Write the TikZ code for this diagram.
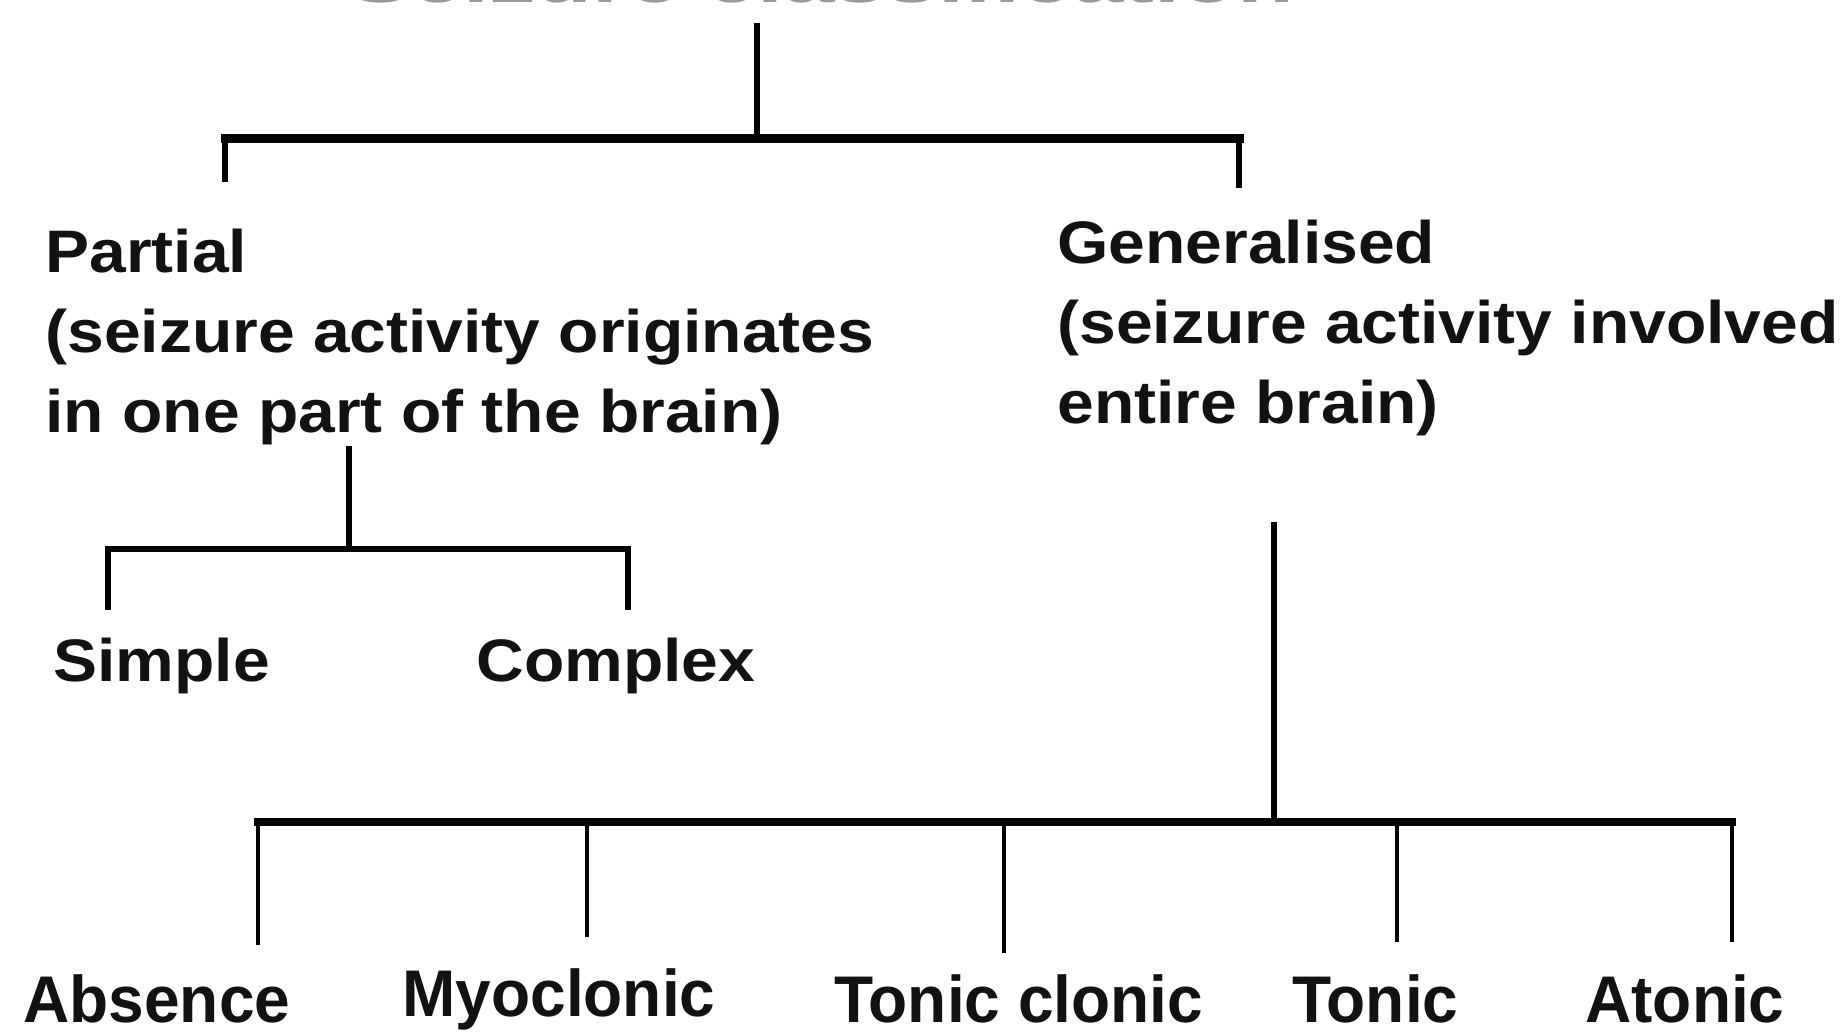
\documentclass[tikz,border=0pt]{standalone}
\usepackage{fontspec}
\setmainfont{Liberation Sans}
\begin{document}
\begin{tikzpicture}[x=0.5pt,y=-0.5pt,
  lbl/.style={inner sep=0pt, anchor=base west, align=left, text=black!93,
    font={\bfseries\fontsize{30}{40}\selectfont}, xscale=1.1},
  leaf/.style={inner sep=0pt, anchor=base west, text=black!93,
    font={\bfseries\fontsize{33}{40}\selectfont}, xscale=0.97},
  barline/.style={line width=4.5pt, line cap=rect},
  vline/.style={line width=2.6pt},
  thinv/.style={line width=1.8pt}]
\useasboundingbox (0,0) rectangle (1841,1034);
% title (cut off by the top edge in the reference)
\node[leaf, anchor=base, xscale=1.45, text=black!40] (title) at (822,2) {Seizure classification};
% level 1
\coordinate (t0) at (757,23);
\coordinate (t1) at (757,138);
\coordinate (tl) at (225,138);
\coordinate (tr) at (1239,138);
\coordinate (tlb) at (225,182);
\coordinate (trb) at (1239,188);
\draw[vline] (t0) -- (t1);
\draw[barline] (tl) -- (tr);
\draw[vline] (tl) -- (tlb);
\draw[vline] (tr) -- (trb);
\node[lbl] (partial) at (45,432) {Partial\\(seizure activity originates\\in one part of the brain)};
\node[lbl] (gen) at (1057,423) {Generalised\\(seizure activity involved\\entire brain)};
% partial branch
\coordinate (p0) at (349,446);
\coordinate (p1) at (349,549);
\coordinate (pl) at (108,549);
\coordinate (pr) at (628,549);
\coordinate (plb) at (108,610);
\coordinate (prb) at (628,610);
\draw[vline] (p0) -- (p1);
\draw[line width=3pt, line cap=rect] (pl) -- (pr);
\draw[vline] (pl) -- (plb);
\draw[vline] (pr) -- (prb);
\node[lbl] (simple) at (53,681) {Simple};
\node[lbl] (complex) at (476,681) {Complex};
% generalised branch
\coordinate (g0) at (1274,522);
\coordinate (g1) at (1274,822);
\coordinate (gl) at (258,822);
\coordinate (gr) at (1732,822);
\draw[vline] (g0) -- (g1);
\draw[barline, line width=4pt] (gl) -- (gr);
\coordinate (d1) at (258,945);
\coordinate (m0) at (587,822);  \coordinate (d2) at (587,937);
\coordinate (c0) at (1004,822); \coordinate (d3) at (1004,953);
\coordinate (o0) at (1397,822); \coordinate (d4) at (1397,942);
\coordinate (d5) at (1732,942);
\draw[thinv] (gl) -- (d1);
\draw[thinv] (m0) -- (d2);
\draw[thinv] (c0) -- (d3);
\draw[thinv] (o0) -- (d4);
\draw[thinv] (gr) -- (d5);
\node[leaf] (absence) at (23,1022) {Absence};
\node[leaf] (myo) at (402,1016) {Myoclonic};
\node[leaf] (tc) at (834,1022) {Tonic clonic};
\node[leaf] (tonic) at (1292,1022) {Tonic};
\node[leaf] (atonic) at (1585,1022) {Atonic};
\end{tikzpicture}
\end{document}
